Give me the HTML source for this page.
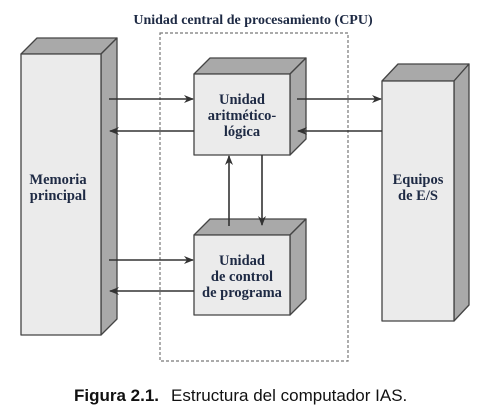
<!DOCTYPE html>
<html><head><style>
html,body{margin:0;padding:0;background:#fff;}
svg{display:block;}
.t{font-family:"Liberation Serif",serif;font-weight:bold;font-size:14.5px;fill:#1e2a44;text-anchor:middle;}
</style></head><body>
<svg width="488" height="416" viewBox="0 0 488 416" xmlns="http://www.w3.org/2000/svg">
<defs>
<marker id="a" markerWidth="10" markerHeight="8" refX="9" refY="4" orient="auto" markerUnits="userSpaceOnUse">
<path d="M0,0 L10,4 L0,8 L3,4 Z" fill="#333"/></marker>
</defs>
<text x="253" y="24" class="t" style="font-size:14px">Unidad central de procesamiento (CPU)</text>
<rect x="160" y="33" width="188" height="328" fill="none" stroke="#777" stroke-width="1.2" stroke-dasharray="3,2"/>
<g stroke="#444" stroke-width="1.3" stroke-linejoin="round">
<polygon points="21,54 37,38 117,38 101,54" fill="#a9a9a9"/>
<polygon points="101,54 117,38 117,319 101,335" fill="#a9a9a9"/>
<rect x="21" y="54" width="80" height="281" fill="#ebebeb"/>
<polygon points="194,74 210,58 306,58 290,74" fill="#a9a9a9"/>
<polygon points="290,74 306,58 306,139 290,155" fill="#a9a9a9"/>
<rect x="194" y="74" width="96" height="81" fill="#ebebeb"/>
<polygon points="194,235 210,219 306,219 290,235" fill="#a9a9a9"/>
<polygon points="290,235 306,219 306,299 290,315" fill="#a9a9a9"/>
<rect x="194" y="235" width="96" height="80" fill="#ebebeb"/>
<polygon points="382,81 398,64 469,64 454,81" fill="#a9a9a9"/>
<polygon points="454,81 469,64 469,305 454,321" fill="#a9a9a9"/>
<rect x="382" y="81" width="72" height="240" fill="#ebebeb"/>
</g>
<g stroke="#333" stroke-width="1.6" fill="none">
<line x1="109" y1="99" x2="193" y2="99" marker-end="url(#a)"/>
<line x1="194" y1="131" x2="110" y2="131" marker-end="url(#a)"/>
<line x1="297" y1="99" x2="381" y2="99" marker-end="url(#a)"/>
<line x1="382" y1="131" x2="298" y2="131" marker-end="url(#a)"/>
<line x1="109" y1="260" x2="193" y2="260" marker-end="url(#a)"/>
<line x1="194" y1="291" x2="110" y2="291" marker-end="url(#a)"/>
<line x1="229" y1="226" x2="229" y2="156" marker-end="url(#a)"/>
<line x1="262" y1="155" x2="262" y2="225" marker-end="url(#a)"/>
</g>
<text class="t" x="242" y="104">Unidad</text>
<text class="t" x="242" y="120">aritmético-</text>
<text class="t" x="242" y="136">lógica</text>
<text class="t" x="242" y="265">Unidad</text>
<text class="t" x="242" y="281">de control</text>
<text class="t" x="242" y="297">de programa</text>
<text class="t" x="58" y="184">Memoria</text>
<text class="t" x="58" y="200">principal</text>
<text class="t" x="418" y="184">Equipos</text>
<text class="t" x="418" y="200">de E/S</text>
<text x="74" y="401" style="font-family:'Liberation Sans',sans-serif;font-size:17px;fill:#111"><tspan font-weight="bold">Figura 2.1.</tspan><tspan dx="12">Estructura del computador IAS.</tspan></text>
</svg>
</body></html>
